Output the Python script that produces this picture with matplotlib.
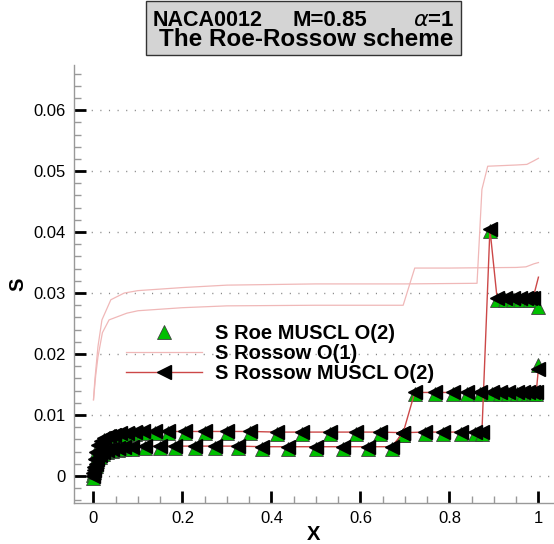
import numpy as np
import matplotlib
matplotlib.use("Agg")
import matplotlib.pyplot as plt
from matplotlib.ticker import MultipleLocator, FixedLocator
from matplotlib.patches import Rectangle

# ---------------- data ----------------
# Rossow MUSCL O(2), surface with the later shock (plateau ~0.0073)
x_u = [0.0, 0.001, 0.003, 0.006, 0.010, 0.016, 0.024, 0.034, 0.046, 0.060, 0.076, 0.094,
       0.111, 0.138, 0.167, 0.206, 0.251, 0.300, 0.352, 0.412, 0.469, 0.531, 0.591, 0.644,
       0.696, 0.745, 0.785, 0.826, 0.857, 0.873, 0.891, 0.907, 0.925, 0.943, 0.958, 0.972,
       0.981, 0.988, 1.0]
s_rossow_u = [0.0005, 0.0015, 0.0028, 0.0040, 0.0050, 0.0057, 0.0062, 0.0066, 0.0068, 0.0070,
              0.0071, 0.0072, 0.0073, 0.0073, 0.0073, 0.0073, 0.0073, 0.0073, 0.0073, 0.0072,
              0.0072, 0.0072, 0.0072, 0.0072, 0.0071, 0.0072, 0.0072, 0.0072, 0.0072, 0.0072,
              0.0405, 0.0292, 0.0292, 0.0292, 0.0292, 0.0292, 0.0292, 0.0292, 0.0326]
s_roe_u = [0.0002, 0.0012, 0.0025, 0.0037, 0.0047, 0.0054, 0.0059, 0.0063, 0.0065, 0.0067,
           0.0068, 0.0069, 0.0070, 0.0070, 0.0070, 0.0070, 0.0070, 0.0070, 0.0070, 0.0069,
           0.0069, 0.0069, 0.0069, 0.0069, 0.0068, 0.0069, 0.0069, 0.0069, 0.0069, 0.0069,
           0.0402, 0.0289, 0.0289, 0.0289, 0.0289, 0.0289, 0.0289, 0.0289, 0.0277]

# surface with the earlier shock (plateau ~0.0048)
x_l = [0.0, 0.002, 0.005, 0.009, 0.014, 0.021, 0.030, 0.041, 0.054, 0.069, 0.086, 0.116,
       0.149, 0.183, 0.228, 0.273, 0.325, 0.379, 0.437, 0.500, 0.561, 0.617, 0.670, 0.696,
       0.722, 0.767, 0.808, 0.839, 0.869, 0.895, 0.913, 0.932, 0.951, 0.966, 0.977, 0.988,
       0.995, 1.0]
s_rossow_l = [0.0, 0.0010, 0.0020, 0.0028, 0.0034, 0.0039, 0.0042, 0.0044, 0.0046, 0.0047,
              0.0048, 0.0049, 0.0049, 0.0049, 0.0049, 0.0049, 0.0049, 0.0048, 0.0048, 0.0048,
              0.0048, 0.0048, 0.0048, 0.0071, 0.0137, 0.0137, 0.0137, 0.0137, 0.0137, 0.0137,
              0.0137, 0.0137, 0.0137, 0.0137, 0.0137, 0.0137, 0.0137, 0.0176]
s_roe_l = [-0.0003, 0.0007, 0.0017, 0.0025, 0.0031, 0.0036, 0.0039, 0.0041, 0.0043, 0.0044,
           0.0045, 0.0046, 0.0046, 0.0046, 0.0046, 0.0046, 0.0046, 0.0045, 0.0045, 0.0045,
           0.0045, 0.0045, 0.0045, 0.0068, 0.0134, 0.0134, 0.0134, 0.0134, 0.0134, 0.0134,
           0.0134, 0.0134, 0.0134, 0.0134, 0.0134, 0.0134, 0.0134, 0.0182]

# Rossow O(1)
x_o1_u = [0.0, 0.003, 0.010, 0.019, 0.039, 0.069, 0.100, 0.200, 0.300, 0.500, 0.700,
          0.862, 0.873, 0.886, 0.950, 0.974, 0.990, 1.0]
s_o1_u = [0.0125, 0.0157, 0.0212, 0.0256, 0.0289, 0.0300, 0.0304, 0.0309, 0.0313,
          0.0315, 0.0315, 0.0316, 0.0470, 0.0508, 0.0510, 0.0511, 0.0517, 0.0521]
x_o1_l = [0.0, 0.005, 0.010, 0.020, 0.035, 0.075, 0.100, 0.200, 0.300, 0.500, 0.696,
          0.722, 0.800, 0.950, 0.972, 0.990, 1.0]
s_o1_l = [0.0125, 0.0165, 0.0195, 0.0235, 0.0256, 0.0267, 0.0271, 0.0276, 0.0279,
          0.0280, 0.0280, 0.0341, 0.0341, 0.0342, 0.0343, 0.0348, 0.0350]

y_ticks = [0, 0.01, 0.02, 0.03, 0.04, 0.05, 0.06]
y_ticklabels = ["0", "0.01", "0.02", "0.03", "0.04", "0.05", "0.06"]
x_ticks = [0, 0.2, 0.4, 0.6, 0.8, 1.0]
x_ticklabels = ["0", "0.2", "0.4", "0.6", "0.8", "1"]

# ---------------- figure ----------------
plt.rcParams['font.family'] = ['Liberation Sans', 'DejaVu Sans']
W, H = 554, 544
fig = plt.figure(figsize=(W / 100, H / 100), dpi=100)
ax = fig.add_axes([74 / W, 1 - 503 / H, 480 / W, (503 - 65) / H])
ax.set_xlim(-0.0438, 1.035)
ax.set_ylim(-0.00443, 0.0674)

green = '#00c000'
red = '#cc4848'
pink = '#f0b8b8'
ms = 9.5

ax.plot(x_u, s_roe_u, ls='none', marker='^', ms=ms, mfc=green, mec='#404040', mew=0.6,
        label='S Roe MUSCL O(2)', zorder=3)
ax.plot(x_l, s_roe_l, ls='none', marker='^', ms=ms, mfc=green, mec='#404040', mew=0.6,
        zorder=3)
ax.plot(x_o1_u, s_o1_u, color=pink, lw=0.9, label='S Rossow O(1)', zorder=2)
ax.plot(x_o1_l, s_o1_l, color=pink, lw=0.9, zorder=2)
ax.plot(x_u, s_rossow_u, color=red, lw=1.0, marker='<', ms=ms, mfc='black', mec='black',
        markevery=list(range(len(x_u) - 1)), label='S Rossow MUSCL O(2)', zorder=4)
ax.plot(x_l, s_rossow_l, color=red, lw=1.0, marker='<', ms=ms, mfc='black', mec='black',
        zorder=4)

# axes styling
for side in ['top', 'right']:
    ax.spines[side].set_visible(False)
for side in ['left', 'bottom']:
    ax.spines[side].set_color('#999999')
    ax.spines[side].set_linewidth(1.0)

ax.yaxis.set_major_locator(FixedLocator(y_ticks))
ax.set_yticklabels(y_ticklabels)
ax.xaxis.set_major_locator(FixedLocator(x_ticks))
ax.set_xticklabels(x_ticklabels)
ax.yaxis.set_minor_locator(MultipleLocator(0.002))
ax.xaxis.set_minor_locator(MultipleLocator(0.05))
ax.tick_params(which='major', direction='in', length=8.5, width=2, color='black',
               labelsize=12, pad=6)
ax.tick_params(which='minor', direction='in', length=5, width=1, color='#999999')
ax.grid(axis='y', which='major', color='#888888', lw=1.0, ls=(0, (0.8, 5.4)))
ax.set_axisbelow(True)

ax.set_xlabel('X', fontsize=14.5, fontweight='bold', labelpad=-1)
ax.set_ylabel('S', fontsize=14.5, fontweight='bold', labelpad=4)

leg = ax.legend(loc='upper left', bbox_to_anchor=(126 / W, 1 - 324 / H),
                bbox_transform=fig.transFigure, frameon=False,
                prop={'weight': 'bold', 'size': 14.5}, handlelength=3.75,
                handletextpad=0.68, labelspacing=0.05, borderaxespad=0, borderpad=0)

# title box
fig.patches.append(Rectangle((146 / W, 1 - 55 / H), 315 / W, 54 / H, transform=fig.transFigure,
                             facecolor='#d4d4d4', edgecolor='#333333', lw=1.0, zorder=0))
fig.text(263 / W, 1 - 20 / H, 'NACA0012', ha='right', va='center', fontsize=15.5,
         fontweight='bold')
fig.text(292 / W, 1 - 20 / H, 'M=0.85', ha='left', va='center', fontsize=16, fontweight='bold')
fig.text(413 / W, 1 - 20 / H, r'$\alpha$=1', ha='left', va='center', fontsize=16,
         fontweight='bold')
fig.text(453 / W, 1 - 40 / H, 'The Roe-Rossow scheme', ha='right', va='center',
         fontsize=17.5, fontweight='bold')

fig.savefig('out.png', dpi=100)
